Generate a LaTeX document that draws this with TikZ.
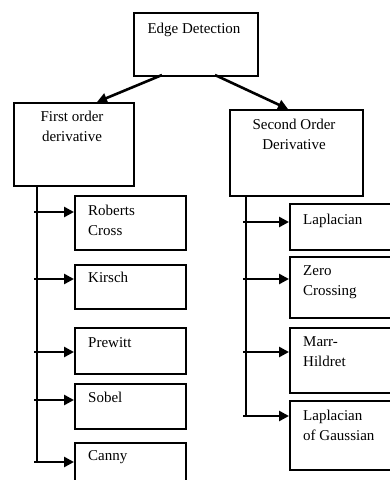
\documentclass[tikz,border=0pt]{standalone}
\usepackage{fontspec}
\setmainfont{Liberation Serif}
\usetikzlibrary{arrows.meta,calc}
\begin{document}
\begin{tikzpicture}[x=1pt,y=-1pt,
  box/.style={draw, line width=2pt, rectangle, inner sep=0pt, anchor=north west},
  lbl/.style={anchor=north west, inner sep=0pt, align=left, font=\fontsize{15}{20}\selectfont},
  clbl/.style={anchor=north, inner sep=0pt, align=center, font=\fontsize{15}{20}\selectfont},
  conn/.style={line width=2.6pt, -{Triangle[length=10pt,width=10pt]}},
  trunk/.style={line width=2pt}]
\useasboundingbox (0,0) rectangle (390,480);
\clip (0,0) rectangle (390,480);
% top level
\node[box, minimum width=124pt, minimum height=63pt] (ed) at (133,12) {};
\node[clbl] (edt) at (194,23) {Edge Detection};
\node[box, minimum width=120pt, minimum height=83pt] (fo) at (13,102) {};
\node[clbl] (fot) at (72,111) {First order\\derivative};
\node[box, minimum width=133pt, minimum height=86pt] (so) at (229,109) {};
\node[clbl] (sot) at (294,119) {Second Order\\Derivative};
\coordinate (edl) at (162,75);
\coordinate (edr) at (215,75);
\coordinate (fotop) at (97,102);
\coordinate (sotop) at (288,109);
\draw[conn] (edl) -- (fotop);
\draw[conn] (edr) -- (sotop);
% left children
\node[box, minimum width=111pt, minimum height=54pt] (rc) at (74,195) {};
\node[lbl] (rct) at (88,205) {Roberts\\Cross};
\node[box, minimum width=111pt, minimum height=44pt] (ki) at (74,264) {};
\node[lbl] (kit) at (88,272) {Kirsch};
\node[box, minimum width=111pt, minimum height=46pt] (pr) at (74,327) {};
\node[lbl] (prt) at (88,337) {Prewitt};
\node[box, minimum width=111pt, minimum height=45pt] (sb) at (74,383) {};
\node[lbl] (sbt) at (88,392) {Sobel};
\node[box, minimum width=111pt, minimum height=60pt] (ca) at (74,442) {};
\node[lbl] (cat) at (88,450) {Canny};
\coordinate (lt0) at (37,185);
\coordinate (lt1) at (37,462);
\draw[trunk] (lt0) -- (lt1);
\foreach \n/\y in {rc/212, ki/279, pr/352, sb/400, ca/462}{
  \draw[conn] (34,\y) -- (\n.west |- 0,\y);
}
% right children
\node[box, minimum width=131pt, minimum height=46pt] (la) at (289,203) {};
\node[lbl] (lat) at (303,214) {Laplacian};
\node[box, minimum width=131pt, minimum height=61pt] (zc) at (289,256) {};
\node[lbl] (zct) at (303,265) {Zero\\Crossing};
\node[box, minimum width=131pt, minimum height=65pt] (mh) at (289,327) {};
\node[lbl] (mht) at (303,336) {Marr-\\Hildret};
\node[box, minimum width=131pt, minimum height=69pt] (lg) at (289,400) {};
\node[lbl] (lgt) at (303,410) {Laplacian\\of Gaussian};
\coordinate (rt0) at (246,195);
\coordinate (rt1) at (246,416);
\draw[trunk] (rt0) -- (rt1);
\foreach \n/\y in {la/222, zc/279, mh/352, lg/416}{
  \draw[conn] (243,\y) -- (\n.west |- 0,\y);
}
\end{tikzpicture}
\end{document}
